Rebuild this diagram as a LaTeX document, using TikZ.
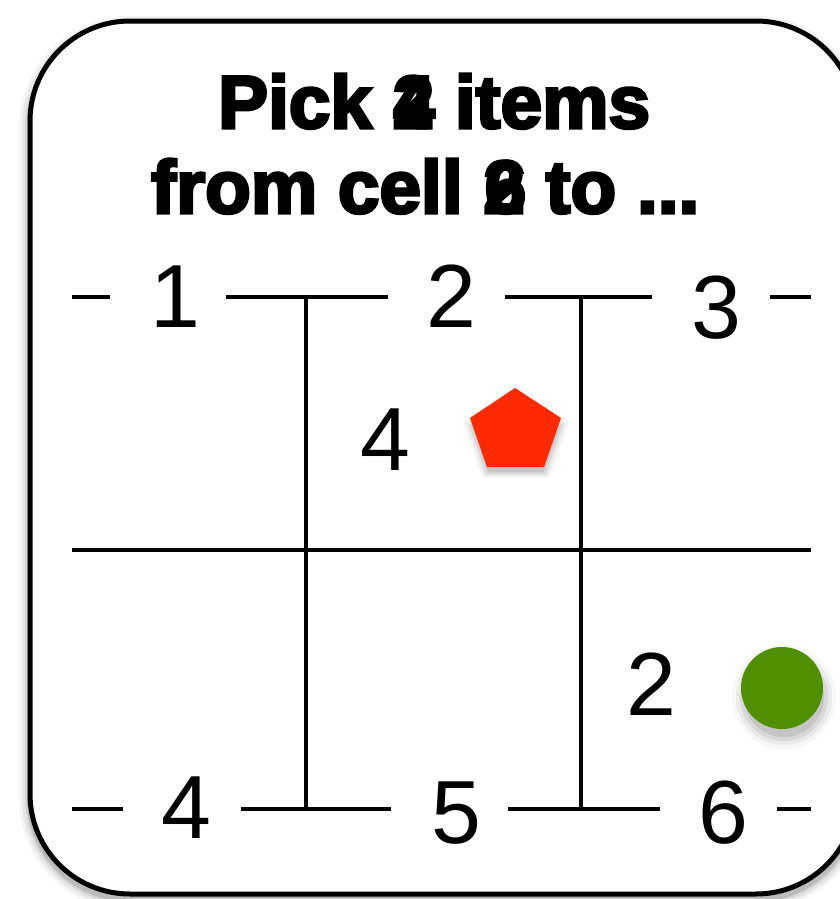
\documentclass[tikz,border=0pt]{standalone}
\usepackage{fontspec}
\setmainfont{Liberation Sans}
\newfontfamily\heavyfont[FakeBold=4]{Liberation Sans Bold}
\usetikzlibrary{shapes.geometric}
\definecolor{pentred}{HTML}{FF2A00}
\definecolor{dotgreen}{HTML}{4F8F00}
\begin{document}
\begin{tikzpicture}[x=1bp,y=-1bp,
  gridline/.style={line width=4.5bp, black},
  num/.style={font=\fontsize{90}{90}\selectfont, inner sep=0pt, anchor=base},
  ttl/.style={font=\fontsize{75}{80}\heavyfont, inner sep=0pt, anchor=base},
  boxpath/.style={rounded corners=100bp},
]
\useasboundingbox (0,0) rectangle (840,899);
% soft shadow of the card
\foreach \w/\o in {22/0.04,16/0.06,10/0.08,6/0.12}{
  \draw[boxpath, line width=\w bp, black, opacity=\o] (30,27) rectangle (856,899);
}
% card
\fill[white, boxpath] (30,21) rectangle (856,894);
\draw[boxpath, line width=5bp] (30,21) rectangle (856,894);
\useasboundingbox (0,0) rectangle (840,899);

% title, with the overprinted digits
\node[ttl, anchor=base west] (t1) at (218,128) {Pick 2 items};
\node[ttl, anchor=base west] (t2) at (151,213) {from cell 2 to ...};
\path (t1.base west) ++(175.1,0) node[ttl, anchor=base west] (d4) {4};
\path (t2.base west) ++(333.5,0) node[ttl, anchor=base west] (d6) {6};

% numbers on top and bottom lines
\node[num] (n1) at (175,327) {1};
\node[num] (n2) at (451,327) {2};
\node[num] (n3) at (716,338) {3};
\node[num] (n4) at (186,838) {4};
\node[num] (n5) at (456,843) {5};
\node[num] (n6) at (723,843) {6};
\node[num] (m4) at (385,470) {4};
\node[num] (m2) at (651,715) {2};

% line end coordinates
\coordinate (tA) at (72,297);  \coordinate (tB) at (110,297);
\coordinate (tC) at (226,297); \coordinate (tD) at (388,297);
\coordinate (tE) at (505,297); \coordinate (tF) at (652,297);
\coordinate (tG) at (770,297); \coordinate (tH) at (811,297);
\coordinate (bA) at (72,809);  \coordinate (bB) at (123,809);
\coordinate (bC) at (241,809); \coordinate (bD) at (391,809);
\coordinate (bE) at (508,809); \coordinate (bF) at (660,809);
\coordinate (bG) at (777,809); \coordinate (bH) at (811,809);
\coordinate (v1t) at (306,297); \coordinate (v1b) at (306,809);
\coordinate (v2t) at (581,297); \coordinate (v2b) at (581,809);
\coordinate (hL) at (72,550);  \coordinate (hR) at (811,550);

\draw[gridline] (tA) -- (tB) (tC) -- (tD) (tE) -- (tF) (tG) -- (tH);
\draw[gridline] (bA) -- (bB) (bC) -- (bD) (bE) -- (bF) (bG) -- (bH);
\draw[gridline] (v1t) -- (v1b) (v2t) -- (v2b) (hL) -- (hR);

% pentagon shadow and pentagon
\foreach \s/\o in {1.22/0.03,1.14/0.05,1.07/0.07,1.0/0.09}{
  \fill[black, opacity=\o, shift={(516,444)}, scale=\s]
    (0,-48) -- (44,-18) -- (28,28) -- (-28,28) -- (-44,-18) -- cycle;
}
\fill[pentred] (515,388) -- (561,418) -- (544,467) -- (487,467) -- (470,418) -- cycle;

% green dot shadow and dot
\foreach \r/\o in {52/0.03,48/0.05,44/0.07,40/0.09}{
  \fill[black, opacity=\o] (784,697) circle (\r);
}
\fill[dotgreen] (782,688) circle (41);
\end{tikzpicture}
\end{document}
